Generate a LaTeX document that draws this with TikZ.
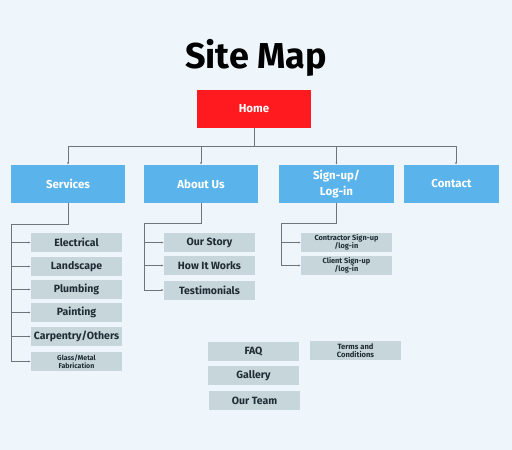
\documentclass[tikz,border=0pt]{standalone}
\usepackage{fontspec}
\setmainfont{Fira Sans}
\usetikzlibrary{arrows.meta}
\definecolor{pagebg}{HTML}{EEF6FC}
\definecolor{homered}{HTML}{FF1A1F}
\definecolor{secblue}{HTML}{5AB4EB}
\definecolor{pagegray}{HTML}{C6D6DB}
\definecolor{inkdark}{HTML}{1F2C34}
\definecolor{linegray}{HTML}{6E767B}

\begin{document}
\begin{tikzpicture}[x=1pt,y=-1pt,
                    top/.style={fill=homered, text=white, font=\bfseries\fontsize{11.5}{13}\selectfont,
                                minimum width=114, minimum height=38, inner sep=0},
                    section/.style={fill=secblue, text=white, font=\bfseries\fontsize{11.5}{16}\selectfont,
                                    minimum height=38, inner sep=0, align=center},
                    page/.style={fill=pagegray, text=inkdark, font=\bfseries\fontsize{10.5}{12}\selectfont,
                                 minimum width=91, minimum height=19, inner sep=0, align=center},
                    conn/.style={draw=linegray, line width=0.8pt},
                    tip/.style={conn, -{Latex[length=2.5pt,width=2pt]}}]
    \fill[pagebg] (0,0) rectangle (512,450);
    \useasboundingbox (0,0) rectangle (512,450);

    % title and home
    \node (title) at (256,58) {\fontsize{36}{40}\selectfont\bfseries Site Map};
    \node[top] (home) at (254,109) {Home};

    % first level
    \node[section, minimum width=114] (services) at (68,184) {Services};
    \node[section, minimum width=114] (about) at (201,184) {About Us};
    \node[section, minimum width=115] (signup) at (336.5,184) {Sign-up/\\Log-in};
    \node[section, minimum width=95] (contact) at (451.5,184) {Contact};

    \coordinate (hub) at (254,146);
    \draw[conn] (home.south) -- (hub);
    \draw[tip] (hub) -| (services.north);
    \draw[tip] (hub) -| (about.north);
    \draw[tip] (hub) -| (signup.north);
    \draw[tip] (hub) -| ([xshift=4.5pt]contact.north);

    % services pages
    \node[page] (electrical) at (76.5,242.5) {Electrical};
    \node[page] (landscape) at (76.5,266.5) {Landscape};
    \node[page] (plumbing) at (76.5,289.5) {Plumbing};
    \node[page] (painting) at (76.5,312.5) {Painting};
    \node[page] (carpentry) at (76.5,336.5) {Carpentry/Others};
    \node[page, font=\bfseries\fontsize{7}{8.5}\selectfont] (glass) at (76.5,361.5) {Glass/Metal\\Fabrication};

    \coordinate (sspine) at (11,224);
    \draw[conn] (services.south) |- (sspine) -- (sspine |- glass);
    \foreach \p in {electrical,landscape,plumbing,painting,carpentry,glass}
        \draw[tip] (sspine |- \p) -- (\p.west);

    % about pages
    \node[page] (story) at (209.5,242.5) {Our Story};
    \node[page] (works) at (209.5,265.5) {How It Works};
    \node[page] (testimonials) at (209.5,290) {Testimonials};

    \coordinate (aspine) at (144,223);
    \draw[conn] (about.south) |- (aspine) -- (aspine |- testimonials);
    \foreach \p in {story,works,testimonials}
        \draw[tip] (aspine |- \p) -- (\p.west);

    % sign-up pages
    \node[page, font=\bfseries\fontsize{7.4}{8}\selectfont] (contractor) at (346.5,242.5) {Contractor Sign-up\\/log-in};
    \node[page, font=\bfseries\fontsize{7.4}{8}\selectfont] (client) at (346.5,265.5) {Client Sign-up\\/log-in};

    \coordinate (uspine) at (281,223);
    \draw[conn] (signup.south) |- (uspine) -- (uspine |- client);
    \foreach \p in {contractor,client}
        \draw[tip] (uspine |- \p) -- (\p.west);

    % loose pages
    \node[page] (faq) at (253.5,351.5) {FAQ};
    \node[page] (gallery) at (253.5,375.5) {Gallery};
    \node[page] (team) at (254.5,400.5) {Our Team};
    \node[page, font=\bfseries\fontsize{7.6}{8.5}\selectfont] (terms) at (355.5,350.5) {Terms and\\Conditions};
\end{tikzpicture}
\end{document}
